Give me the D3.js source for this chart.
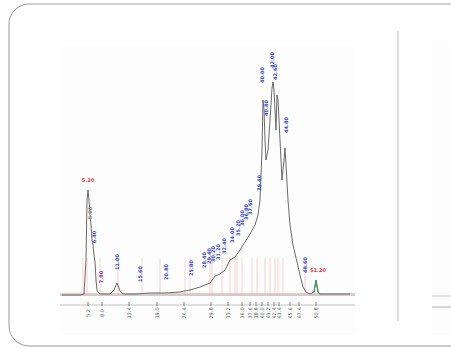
<!DOCTYPE html>
<html>
<head>
<meta charset="utf-8">
<script src="https://cdn.jsdelivr.net/npm/d3@7"></script>
<style>
  html, body { margin: 0; padding: 0; background: #fff; }
  svg { display: block; }
</style>
</head>
<body>
<div id="chart"></div>
<script>
// chromatogram trace, retention time (min) vs signal (mAU)
const traceTimes = [0, 3.6, 4.4, 4.8, 5.0, 5.2, 5.4, 5.6, 5.8, 6.0, 6.2, 6.4, 6.6, 6.8, 7.0, 7.6, 9.6, 10.4, 11.0, 11.6, 12.2,
  14.6, 17.6, 20.6, 23.6, 25.6, 27.6, 29.6, 30.6, 31.6, 32.6, 33.6, 34.6, 35.6, 36.6, 37.6, 38.6, 39.2, 39.6, 40.0,
  40.2, 40.4, 40.6, 40.8, 41.2, 41.6, 42.0, 42.2, 42.4, 42.6, 42.8, 43.0, 43.2, 43.6, 44.0, 44.4, 44.6, 44.8, 45.2,
  45.6, 46.2, 47.0, 47.6, 48.2, 48.8, 49.6, 50.4, 50.8, 51.2, 51.6, 57.6];
const traceSignal = [0, 0, 4, 140, 380, 420, 380, 320, 280, 220, 200, 160, 132, 60, 16, 4, 4, 20, 48, 16, 4,
  4, 8, 8, 12, 20, 32, 48, 76, 84, 100, 140, 152, 180, 212, 244, 280, 320, 380, 580,
  780, 740, 620, 540, 580, 700, 828, 852, 820, 740, 660, 800, 780, 620, 460, 540, 588, 520, 380,
  280, 200, 132, 80, 32, 12, 4, 12, 60, 12, 4, 4];

// labelled peaks: retention time, label level, colour
const peakTimes = [5.2, 5.6, 6.4, 7.8, 11.0, 15.6, 20.8, 25.8, 28.4, 29.4, 30.2, 31.2, 32.4, 34.0, 35.2, 36.0, 36.8, 37.6, 39.4,
  40.0, 40.8, 42.0, 42.6, 44.8, 48.6, 51.2];
const peakLevels = [452, 328, 232, 72, 132, 84, 92, 108, 140, 156, 164, 172, 196, 240, 268, 308, 332, 352, 448,
  880, 748, 940, 892, 680, 120, 92];
const peakColors = ['#e0303a', '#888', '#3a4cc0', '#8a3c9c', '#3a4cc0', '#3a4cc0', '#3a4cc0', '#3a4cc0', '#3a4cc0', '#3a4cc0',
  '#3a4cc0', '#3a4cc0', '#3a4cc0', '#3a4cc0', '#3a4cc0', '#3a4cc0', '#3a4cc0', '#3a4cc0', '#3a4cc0',
  '#3a4cc0', '#3a4cc0', '#3a4cc0', '#3a4cc0', '#3a4cc0', '#3a4cc0', '#e0303a'];

// integration cut lines
const cutTimes = [4.2, 5.0, 7.6, 11.2, 16.0, 19.6, 24.6, 25.6, 29.6, 30.0, 32.0, 33.6, 34.6, 35.0, 36.0, 38.0, 39.0,
  40.6, 41.6, 42.6, 43.2, 44.2, 48.6];

// x tick labels
const tickTimes = [5.2, 8.0, 13.4, 19.0, 24.4, 29.8, 33.2, 36.0, 37.6, 38.8, 40.0, 41.2, 42.4, 43.4, 45.6, 47.4, 50.8];

const W = 451, H = 348;
const svg = d3.select('#chart').append('svg').attr('width', W).attr('height', H)
  .attr('font-family', 'DejaVu Sans, sans-serif');

// outer frame, rounded on the left, running off the right edge
svg.append('rect')
  .attr('x', 9).attr('y', 4).attr('width', 480).attr('height', 342)
  .attr('rx', 20).attr('ry', 20)
  .attr('fill', '#fff').attr('stroke', '#9a9a9a').attr('stroke-width', 1);

// faint panels
svg.append('rect').attr('x', 60).attr('y', 45).attr('width', 295).attr('height', 290).attr('fill', '#fdfdfd');
svg.append('rect').attr('x', 432).attr('y', 42).attr('width', 19).attr('height', 293).attr('fill', '#fdfdfd');

// divider
svg.append('line').attr('x1', 398).attr('x2', 398).attr('y1', 31).attr('y2', 321)
  .attr('stroke', '#d0d0d0').attr('stroke-width', 1.5);

// right panel stubs
[296, 307].forEach((y, i) => {
  svg.append('line').attr('x1', 432).attr('x2', 451).attr('y1', y).attr('y2', y)
    .attr('stroke', i ? '#c8c8c8' : '#dadada').attr('stroke-width', 1.5);
});

const x = d3.scaleLinear().domain([0, 58]).range([62, 352]);
const y = d3.scaleLinear().domain([0, 1000]).range([295, 45]);

// baseline and tick axis
svg.append('line').attr('x1', 60).attr('x2', 355).attr('y1', 295).attr('y2', 295)
  .attr('stroke', '#bdbdbd').attr('stroke-width', 1.5);
svg.append('line').attr('x1', 60).attr('x2', 355).attr('y1', 293.5).attr('y2', 293.5)
  .attr('stroke', '#f2b8b8').attr('stroke-width', 0.8);
svg.append('line').attr('x1', 60).attr('x2', 355).attr('y1', 305).attr('y2', 305)
  .attr('stroke', '#d6d6d6').attr('stroke-width', 1.5);

// cut lines
svg.append('g').selectAll('line')
  .data(cutTimes)
  .join('line')
  .attr('x1', d => x(d)).attr('x2', d => x(d))
  .attr('y1', y(148)).attr('y2', y(0))
  .attr('stroke', '#f0a0a0').attr('stroke-opacity', 0.6).attr('stroke-width', 0.8);

// trace
const trace = traceTimes.map((t, i) => [t, traceSignal[i]]);
svg.append('path')
  .datum(trace)
  .attr('fill', 'none')
  .attr('stroke', '#6a6a6a')
  .attr('stroke-width', 1)
  .attr('d', d3.line().x(d => x(d[0])).y(d => y(d[1])));

// small green peak at the end
svg.append('path')
  .datum(trace.filter(d => d[0] >= 50 && d[0] <= 52))
  .attr('fill', 'none').attr('stroke', '#3c9a50').attr('stroke-width', 1.1)
  .attr('d', d3.line().x(d => x(d[0])).y(d => y(d[1])));

// peak labels
const peaks = peakTimes.map((t, i) => ({ t, lv: peakLevels[i], c: peakColors[i] }));
svg.append('g').selectAll('text')
  .data(peaks)
  .join('text')
  .attr('transform', d => {
    const horiz = d.c === '#e0303a';
    return horiz ? `translate(${x(d.t)},${y(d.lv)})` : `translate(${x(d.t) + 1.8},${y(d.lv)}) rotate(-90)`;
  })
  .attr('text-anchor', 'middle')
  .attr('font-size', 5)
  .attr('font-weight', 'bold')
  .attr('fill', d => d.c)
  .text(d => d.t.toFixed(2));

// x ticks
const ax = svg.append('g');
ax.selectAll('line')
  .data(tickTimes)
  .join('line')
  .attr('x1', d => x(d)).attr('x2', d => x(d))
  .attr('y1', 302).attr('y2', 306)
  .attr('stroke', '#666').attr('stroke-width', 0.8);
ax.selectAll('text')
  .data(tickTimes)
  .join('text')
  .attr('transform', d => `translate(${x(d) + 1.8},${313}) rotate(-90)`)
  .attr('text-anchor', 'middle')
  .attr('font-size', 5)
  .attr('fill', '#555')
  .text(d => d.toFixed(1));
</script>
</body>
</html>
